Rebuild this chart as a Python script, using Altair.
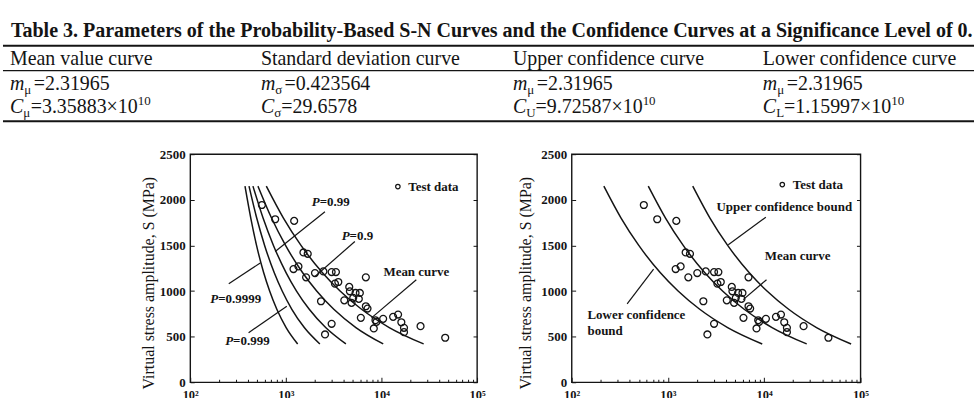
import altair as alt
import pandas as pd

# ------------------------------------------------------------------ Table 3
TABLE_TITLE = ("Table 3. Parameters of the Probability-Based S-N Curves and the "
               "Confidence Curves at a Significance Level of 0.")
HEADERS = ["Mean value curve", "Standard deviation curve",
           "Upper confidence curve", "Lower confidence curve"]
M_SYM = "m"
M_SUB = ["μ", "σ", "μ", "μ"]
M_VAL = ["2.31965", "0.423564", "2.31965", "2.31965"]
C_SYM = "C"
C_SUB = ["μ", "σ", "U", "L"]
C_VAL = ["3.35883×10", "29.6578", "9.72587×10", "1.15997×10"]
C_EXP = ["10", "", "10", "10"]

# ------------------------------------------------- test data (N cycles, S MPa)
TEST_N = [562, 774, 1222, 1528, 1694, 1203, 1355, 1629, 2018, 2471,
          2333, 2570, 3014, 3014, 3343, 3265, 3540, 4087, 4606, 4677,
          4870, 5070, 5360, 5945, 5800, 6090, 6870, 6870, 7150, 8320,
          8660, 8870, 10420, 13250, 14930, 16150, 17220, 17220, 25650, 46450]
TEST_S = [1943, 1787, 1769, 1423, 1408, 1241, 1270, 1150, 1197, 1215,
          888, 524, 641, 1208, 1208, 1081, 1099, 898, 1045, 997,
          870, 925, 979, 979, 914, 706, 1150, 833, 808, 590,
          680, 662, 695, 717, 742, 658, 597, 549, 615, 488]

# ------------------------------------------------------------ S-N curves
CURVE_S = [2150, 1800, 1500, 1200, 1000, 800, 600, 420]
MEAN_N = [625, 944, 1441, 2418, 3692, 6194, 12070, 27620]
P9_N = [511, 709, 993, 1500, 2102, 3175, 5404, 10440]
P99_N = [453, 578, 742, 1008, 1294, 1758, 2608, 4250]
P999_N = [412, 496, 600, 757, 916, 1156, 1560, 2270]
P9999_N = [374, 430, 494, 587, 677, 805, 1007, 1330]
UPPER_N = [1810, 2733, 4173, 7002, 10690, 17940, 34950, 79950]
LOWER_N = [216, 326, 498, 835, 1275, 2139, 4171, 9540]

X_TICKS = [100, 1000, 10000, 100000]
X_TICK_LABELS = ["10²", "10³", "10⁴", "10⁵"]
X_MINOR = [k * 10 ** d for d in (2, 3, 4) for k in range(2, 10)]
Y_TICKS = [0, 500, 1000, 1500, 2000, 2500]
Y_TITLE = "Virtual stress amplitude, S (MPa)"

# annotations (data units): leader segments and labels
LEFT_LEADERS = [(2564, 1870, 774, 1433), (5272, 1543, 2018, 1160),
                (253, 1081, 540, 1307), (408, 543, 1024, 833),
                (23170, 1124, 7870, 706)]
LEFT_P_LABELS = [("=0.99", 2259, 1979), ("=0.9", 4641, 1605),
                 ("=0.9999", 196, 917), ("=0.999", 281, 451)]
LEFT_C_LABELS = [("Mean curve", 23170, 1208)]
LEFT_L_LABELS = []

RIGHT_LEADERS = [(10400, 1809, 4236, 1507), (10570, 1124, 6050, 906),
                 (377, 859, 710, 1241)]
RIGHT_P_LABELS = []
RIGHT_C_LABELS = [("Upper confidence bound", 16160, 1918), ("Mean curve", 22280, 1386)]
RIGHT_L_LABELS = [("Lower confidence", 146, 742), ("bound", 146, 560)]

# ------------------------------------------------------------------ style
FONT = "Liberation Serif"
INK = "#141414"

REG_W = {c: 0.5 for c in "0123456789"}
REG_W.update({".": 0.25, "=": 0.564, "×": 0.564, "μ": 0.576, "σ": 0.549,
              "U": 0.722, "L": 0.611})
ITAL_W = {"m": 0.722, "C": 0.667}


def text_w(s, size, table=REG_W):
    return sum(table.get(ch, 0.5) for ch in s) * size


# ------------------------------------------------------------ table chart
TW, TH = 975, 140
COL_X = [7, 259, 512, 763]
TITLE_XY = (8, 36)
Y_HEAD = 64
Y_ROWS = [90, 113]
RULES = [(45, 2.0), (70, 1.2), (121, 2.0)]
BIG, SMALL, TITLE_SIZE = 20, 13, 20.1
SUB_GAP = 2

TX = alt.Scale(domain=[0, TW], range=[0, TW])
TY = alt.Scale(domain=[0, TH], range=[0, TH])

title_df = pd.DataFrame([{"x": TITLE_XY[0], "y": TITLE_XY[1], "t": TABLE_TITLE}])
head_df = pd.DataFrame([{"x": COL_X[i], "y": Y_HEAD, "t": HEADERS[i]} for i in range(4)])
ital, reg, small = [], [], []
for i in range(4):
    x0 = COL_X[i]
    wm = text_w(M_SYM, BIG, ITAL_W)
    ital.append({"x": x0, "y": Y_ROWS[0], "t": M_SYM})
    small.append({"x": x0 + wm, "y": Y_ROWS[0] + 4, "t": M_SUB[i]})
    reg.append({"x": x0 + wm + text_w(M_SUB[i], SMALL) + SUB_GAP, "y": Y_ROWS[0],
                "t": "=" + M_VAL[i]})
    wc = text_w(C_SYM, BIG, ITAL_W)
    ital.append({"x": x0, "y": Y_ROWS[1], "t": C_SYM})
    small.append({"x": x0 + wc, "y": Y_ROWS[1] + 4, "t": C_SUB[i]})
    xv = x0 + wc + text_w(C_SUB[i], SMALL)
    reg.append({"x": xv, "y": Y_ROWS[1], "t": "=" + C_VAL[i]})
    if C_EXP[i]:
        small.append({"x": xv + text_w("=" + C_VAL[i], BIG), "y": Y_ROWS[1] - 8, "t": C_EXP[i]})
ital_df, reg_df, small_df = pd.DataFrame(ital), pd.DataFrame(reg), pd.DataFrame(small)
rule_df = pd.DataFrame([{"x0": 0, "x1": TW, "y": y, "w": w} for y, w in RULES])


def tlayer(df, **mk):
    return alt.Chart(df).mark_text(align="left", baseline="alphabetic", font=FONT,
                                   color=INK, **mk).encode(
        x=alt.X("x:Q", scale=TX, axis=None),
        y=alt.Y("y:Q", scale=TY, axis=None),
        text="t:N")


table = alt.layer(
    alt.Chart(rule_df).mark_rule(color=INK).encode(
        x=alt.X("x0:Q", scale=TX, axis=None), x2="x1:Q",
        y=alt.Y("y:Q", scale=TY, axis=None),
        strokeWidth=alt.StrokeWidth("w:Q", scale=None)),
    tlayer(title_df, fontSize=TITLE_SIZE, fontWeight="bold"),
    tlayer(head_df, fontSize=BIG),
    tlayer(ital_df, fontSize=BIG, fontStyle="italic"),
    tlayer(reg_df, fontSize=BIG),
    tlayer(small_df, fontSize=SMALL),
).properties(width=TW, height=TH)

# ------------------------------------------------------------ S-N panels
PH = 229
label_expr = " : ".join(
    f"datum.value == {v} ? '{t}'" for v, t in zip(X_TICKS[:-1], X_TICK_LABELS[:-1])
) + f" : '{X_TICK_LABELS[-1]}'"


def panel(curves, leaders, p_labels, c_labels, l_labels, width, legend_xy, title_xy):
    xs = alt.Scale(type="log", domain=[100, 100000], nice=False)
    ys = alt.Scale(domain=[0, 2500], nice=False)
    cdf = pd.DataFrame([{"curve": name, "N": n, "S": s}
                        for name, ns in curves for n, s in zip(ns, CURVE_S)])
    pdf = pd.DataFrame({"N": TEST_N, "S": TEST_S, "series": "Test data"})

    x_major = alt.Axis(orient="bottom", values=X_TICKS, labelExpr=label_expr, domain=False,
                       offset=-5, tickSize=5, tickColor=INK, tickWidth=1, labelPadding=6,
                       labelFont=FONT, labelFontSize=12.5, labelFontWeight="bold",
                       labelColor=INK, labelFlush=False, labelOverlap=False,
                       grid=False, title=None)
    x_minor = alt.Axis(orient="bottom", values=X_MINOR, labels=False, domain=False,
                       offset=-3, tickSize=3, tickColor=INK, tickWidth=1, grid=False, title=None)
    y_left = alt.Axis(orient="left", values=Y_TICKS, format="d", domain=False, offset=-4,
                      tickSize=4, tickColor=INK, tickWidth=1, labelPadding=5, labelFont=FONT,
                      labelFontSize=13, labelFontWeight="bold", labelColor=INK,
                      grid=False, title=Y_TITLE, titleFont=FONT, titleFontSize=16,
                      titleFontWeight="normal", titleColor=INK,
                      titleX=title_xy[0], titleY=title_xy[1], titleBaseline="middle")
    y_right = alt.Axis(orient="right", values=Y_TICKS, labels=False, domain=False,
                       offset=-4, tickSize=4, tickColor=INK, tickWidth=1, grid=False, title=None)

    layers = [
        alt.Chart(cdf).mark_line(color=INK, strokeWidth=1.5, interpolate="monotone").encode(
            x=alt.X("N:Q", scale=xs, axis=x_major),
            y=alt.Y("S:Q", scale=ys, axis=y_left),
            detail="curve:N"),
        alt.Chart(pdf).mark_point(filled=False, size=48, strokeWidth=1.3, color=INK,
                                  opacity=1).encode(
            x=alt.X("N:Q", scale=xs, axis=x_minor),
            y=alt.Y("S:Q", scale=ys, axis=y_right),
            shape=alt.Shape("series:N",
                            scale=alt.Scale(domain=["Test data"], range=["circle"]),
                            legend=alt.Legend(orient="none", legendX=legend_xy[0],
                                              legendY=legend_xy[1], title=None,
                                              labelFont=FONT, labelFontSize=13,
                                              labelFontWeight="bold", labelColor=INK,
                                              symbolSize=20, symbolStrokeWidth=1.2,
                                              symbolStrokeColor=INK, padding=0,
                                              labelOffset=4)),
        ),
    ]
    ldf = pd.DataFrame(leaders, columns=["N", "S", "N2", "S2"])
    layers.append(alt.Chart(ldf).mark_rule(color=INK, strokeWidth=1.2).encode(
        x=alt.X("N:Q", scale=xs, axis=None), y=alt.Y("S:Q", scale=ys, axis=None),
        x2="N2:Q", y2="S2:Q"))
    tstyle = dict(font=FONT, fontSize=13, fontWeight="bold", color=INK, baseline="middle")
    if p_labels:
        pl = pd.DataFrame(p_labels, columns=["t", "N", "S"])
        pl["p"] = "P"
        layers.append(alt.Chart(pl).mark_text(align="right", fontStyle="italic", **tstyle).encode(
            x=alt.X("N:Q", scale=xs, axis=None), y=alt.Y("S:Q", scale=ys, axis=None), text="p:N"))
        layers.append(alt.Chart(pl).mark_text(align="left", **tstyle).encode(
            x=alt.X("N:Q", scale=xs, axis=None), y=alt.Y("S:Q", scale=ys, axis=None), text="t:N"))
    if c_labels:
        cl = pd.DataFrame(c_labels, columns=["t", "N", "S"])
        layers.append(alt.Chart(cl).mark_text(align="center", **tstyle).encode(
            x=alt.X("N:Q", scale=xs, axis=None), y=alt.Y("S:Q", scale=ys, axis=None), text="t:N"))
    if l_labels:
        ll = pd.DataFrame(l_labels, columns=["t", "N", "S"])
        layers.append(alt.Chart(ll).mark_text(align="left", **tstyle).encode(
            x=alt.X("N:Q", scale=xs, axis=None), y=alt.Y("S:Q", scale=ys, axis=None), text="t:N"))

    return alt.layer(*layers).resolve_axis(x="independent", y="independent").properties(
        width=width, height=PH, view=alt.ViewBackground(stroke=INK, strokeWidth=1.4))


left = panel([("mean", MEAN_N), ("P=0.9", P9_N), ("P=0.99", P99_N),
              ("P=0.999", P999_N), ("P=0.9999", P9999_N)],
             LEFT_LEADERS, LEFT_P_LABELS, LEFT_C_LABELS, LEFT_L_LABELS,
             288, (202, 26), (-46, 129))
right = panel([("mean", MEAN_N), ("upper", UPPER_N), ("lower", LOWER_N)],
              RIGHT_LEADERS, RIGHT_P_LABELS, RIGHT_C_LABELS, RIGHT_L_LABELS,
              290, (205, 24), (-50, 129))

spacer = alt.Chart(pd.DataFrame({"v": [0]})).mark_point(opacity=0).encode(
    x=alt.value(0), y=alt.value(0)).properties(width=93, height=PH)

plots = alt.hconcat(spacer, left, right, spacing=95, bounds="flush").resolve_scale(
    shape="independent").resolve_legend(shape="independent")

chart = alt.vconcat(table, plots, spacing=14, bounds="flush").properties(
    padding={"left": 0, "top": 0, "right": 0, "bottom": 0},
    background="white",
).configure_view(stroke=None)

chart.save("out.html", embed_options={"renderer": "svg", "actions": False})
